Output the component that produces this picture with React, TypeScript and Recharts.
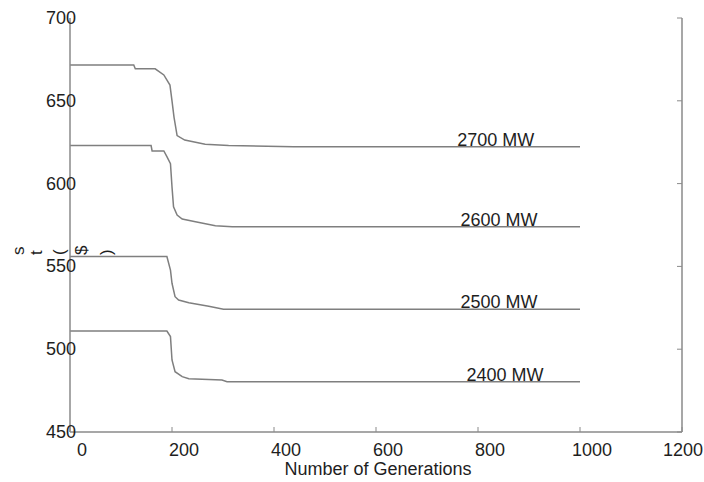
import { LineChart, Line, XAxis, YAxis, ReferenceDot } from 'recharts';

// generation index / cost pairs
const gens2700 = [0, 125, 128, 167, 184, 196, 200, 204, 210, 225, 265, 311, 438, 1000];
const cost2700 = [671.6, 671.6, 669.3, 669.3, 665.6, 659.5, 650, 640, 629, 626.3, 623.7, 623, 622.3, 622.3];

const gens2600 = [0, 159, 161, 184, 190, 197, 200, 203, 210, 220, 246, 285, 318, 1000];
const cost2600 = [623, 623, 619.7, 619.7, 616.3, 612, 598, 586, 581, 578.6, 577, 574.6, 574, 574];

const gens2500 = [0, 190, 197, 200, 206, 213, 233, 272, 301, 1000];
const cost2500 = [556, 556, 547.8, 539.8, 531.7, 529.7, 528, 526, 524.1, 524.1];

const gens2400 = [0, 190, 197, 200, 206, 220, 233, 298, 308, 1000];
const cost2400 = [511, 511, 507.6, 493.5, 486.4, 483.4, 482.2, 481.4, 480.4, 480.4];

const loadNames = ['2700 MW', '2600 MW', '2500 MW', '2400 MW'];
const labelGens = [835, 841, 841, 853];

const xTicks = [0, 200, 400, 600, 800, 1000, 1200];
const yTicks = [450, 500, 550, 600, 650, 700];

// y axis title, drawn glyph by glyph (each one turned on its side);
// the first two letters sit past the left edge, as in the original
const yTitle = 'Cost ($)';
const yTitleX = [-60, -40, 24, 42, 50, 65, 87, 112];

const toRows = (g: number[], c: number[]) => g.map((v, i) => ({ g: v, cost: c[i] }));

const series = [
	toRows(gens2700, cost2700),
	toRows(gens2600, cost2600),
	toRows(gens2500, cost2500),
	toRows(gens2400, cost2400),
];

const FONT = '"Liberation Sans", Arial, sans-serif';
const AXIS = '#8a8a8a';
const LINE = '#7f7f7f';
const TXT = '#1e1e1e';

function BottomTick({ x, y, payload }: any) {
	const last = payload.value === xTicks[xTicks.length - 1];
	return (
		<g>
			<line x1={x} y1={y} x2={x} y2={y - 5} stroke={AXIS} strokeWidth={1} />
			<text
				x={last ? 703 : x + 12}
				y={y + 24}
				textAnchor={last ? 'end' : 'middle'}
				fontSize={18}
				fontFamily={FONT}
				fill={TXT}
			>
				{payload.value}
			</text>
		</g>
	);
}

function LeftTick({ x, y, payload }: any) {
	return (
		<text x={x + 6} y={y + 6} textAnchor="end" fontSize={18} fontFamily={FONT} fill={TXT}>
			{payload.value}
		</text>
	);
}

function TopTick({ x, y }: any) {
	return <line x1={x} y1={y} x2={x} y2={y + 5} stroke={AXIS} strokeWidth={1} />;
}

function RightTick({ x, y }: any) {
	return <line x1={x} y1={y} x2={x - 5} y2={y} stroke={AXIS} strokeWidth={1} />;
}

export default function App() {
	return (
		<div style={{ position: 'absolute', left: 0, top: 0, width: 704, height: 482, background: '#fff' }}>
			<LineChart width={704} height={482} margin={{ top: 18, right: 12, bottom: 10, left: 30 }}>
				<XAxis
					xAxisId="b"
					type="number"
					dataKey="g"
					domain={[0, 1200]}
					ticks={xTicks}
					allowDataOverflow
					axisLine={{ stroke: AXIS, strokeWidth: 1.5 }}
					tickLine={false}
					tickSize={0}
					tickMargin={0}
					height={40}
					tick={<BottomTick />}
					interval={0}
				/>
				<XAxis
					xAxisId="t"
					orientation="top"
					type="number"
					dataKey="g"
					domain={[0, 1200]}
					ticks={xTicks}
					allowDataOverflow
					axisLine={{ stroke: AXIS, strokeWidth: 1.5 }}
					tickLine={false}
					tickSize={0}
					tickMargin={0}
					height={0}
					tick={<TopTick />}
					interval={0}
				/>
				<YAxis
					yAxisId="l"
					type="number"
					domain={[450, 700]}
					ticks={yTicks}
					allowDataOverflow
					axisLine={{ stroke: AXIS, strokeWidth: 1.5 }}
					tickLine={false}
					tickSize={0}
					tickMargin={0}
					width={40}
					tick={<LeftTick />}
					interval={0}
				/>
				<YAxis
					yAxisId="r"
					orientation="right"
					type="number"
					domain={[450, 700]}
					ticks={yTicks}
					allowDataOverflow
					axisLine={{ stroke: AXIS, strokeWidth: 1.5 }}
					tickLine={false}
					tickSize={0}
					tickMargin={0}
					width={10}
					tick={<RightTick />}
					interval={0}
				/>
				{series.map((rows, i) => (
					<Line
						key={loadNames[i]}
						xAxisId="b"
						yAxisId="l"
						data={rows}
						dataKey="cost"
						type="linear"
						stroke={LINE}
						strokeWidth={1.5}
						dot={false}
						activeDot={false}
						isAnimationActive={false}
					/>
				))}
				{series.map((rows, i) => (
					<ReferenceDot
						key={'lbl' + i}
						xAxisId="b"
						yAxisId="l"
						x={labelGens[i]}
						y={rows[rows.length - 1].cost}
						r={0}
						stroke="none"
						fill="none"
						label={{ value: loadNames[i], position: 'top', offset: 1, fontSize: 18, fontFamily: FONT, fill: TXT }}
					/>
				))}
			</LineChart>
			<svg width={704} height={482} style={{ position: 'absolute', left: 0, top: 0, pointerEvents: 'none' }}>
				{yTitle.split('').map((ch, i) =>
					ch === ' ' ? null : (
						<text
							key={'yt' + i}
							x={yTitleX[i]}
							y={255}
							transform={`rotate(-90 ${yTitleX[i]} 255)`}
							fontSize={17}
							fontFamily={FONT}
							fill={TXT}
						>
							{ch}
						</text>
					)
				)}
				<text x={378} y={475} textAnchor="middle" fontSize={18} fontFamily={FONT} fill={TXT}>
					Number of Generations
				</text>
			</svg>
		</div>
	);
}
